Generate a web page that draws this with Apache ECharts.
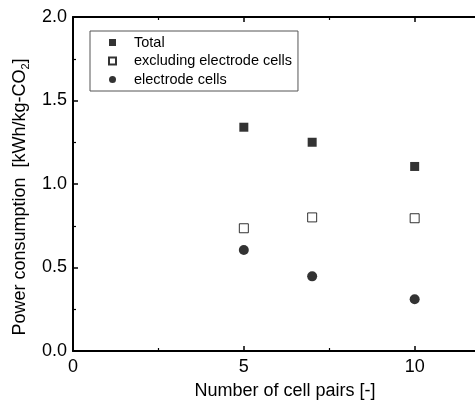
<!DOCTYPE html>
<html>
<head>
<meta charset="utf-8">
<script src="https://cdn.jsdelivr.net/npm/echarts@6/dist/echarts.min.js"></script>
<style>
  html, body { margin: 0; padding: 0; background: #fff; }
  #main { width: 475px; height: 403px; }
</style>
</head>
<body>
<div id="main"></div>
<script>
// number of cell pairs
var cellPairs = [5, 7, 10];
// power consumption [kWh/kg-CO2]
var totalPower = [1.34, 1.25, 1.105];
var excludingElectrode = [0.735, 0.80, 0.795];
var electrodeCells = [0.605, 0.447, 0.31];

var xTicks = [0, 5, 10];
var yTicks = [0.0, 0.5, 1.0, 1.5, 2.0];

function pairs(xs, ys) {
  return xs.map(function (x, i) { return [x, ys[i]]; });
}

var FONT = 'Liberation Sans, Arial, sans-serif';
var chart = echarts.init(document.getElementById('main'));

var axisCommon = {
  type: 'value',
  axisLine: { show: true, onZero: false, lineStyle: { color: '#000', width: 2 } },
  axisTick: { show: true, inside: true, length: 5, lineStyle: { color: '#000', width: 1.5 } },
  minorTick: { show: true, splitNumber: 2, length: 3, lineStyle: { color: '#000', width: 1.2 } },
  splitLine: { show: false },
  minorSplitLine: { show: false }
};

chart.setOption({
  animation: false,
  backgroundColor: '#fff',
  grid: { left: 73, top: 17, width: 410, height: 334, outerBoundsMode: 'none', containLabel: false },
  legend: {
    orient: 'vertical',
    left: 90,
    top: 31,
    padding: [4, 6, 4, 18],
    itemGap: 3.5,
    itemWidth: 7,
    itemHeight: 7,
    borderColor: '#555',
    borderWidth: 1,
    textStyle: { fontFamily: FONT, fontSize: 14.5, color: '#000', padding: [0, 0, 0, 13] },
    data: ['Total', 'excluding electrode cells', 'electrode cells']
  },
  xAxis: [
    Object.assign({}, axisCommon, {
      position: 'bottom',
      min: 0, max: 12, interval: 5,
      name: 'Number of cell pairs [-]',
      nameLocation: 'middle',
      nameGap: 31,
      nameTextStyle: { fontFamily: FONT, fontSize: 18, color: '#000', padding: [0, 0, 0, 14] },
      axisLabel: {
        fontFamily: FONT, fontSize: 18, color: '#000', margin: 7,
        formatter: function (v) { return xTicks.indexOf(v) >= 0 ? String(v) : ''; }
      }
    }),
    Object.assign({}, axisCommon, {
      position: 'top',
      min: 0, max: 12, interval: 5,
      axisLabel: { show: false }
    })
  ],
  yAxis: [
    Object.assign({}, axisCommon, {
      position: 'left',
      min: 0, max: 2, interval: 0.5,
      name: '{n|Power consumption  [kWh/kg-CO}{s|2}{n|]}',
      nameLocation: 'middle',
      nameGap: 42,
      nameRotate: 90,
      nameTextStyle: {
        padding: [0, 26, 0, 0],
        rich: {
          n: { fontFamily: FONT, fontSize: 18, color: '#000' },
          s: { fontFamily: FONT, fontSize: 11, color: '#000', padding: [10, 0, 0, 0] }
        }
      },
      axisLabel: {
        fontFamily: FONT, fontSize: 18, color: '#000', margin: 6,
        formatter: function (v) {
          for (var i = 0; i < yTicks.length; i++) {
            if (Math.abs(yTicks[i] - v) < 1e-9) return yTicks[i].toFixed(1);
          }
          return '';
        }
      }
    })
  ],
  series: [
    {
      name: 'Total',
      type: 'scatter',
      symbol: 'rect',
      symbolSize: 9,
      itemStyle: { color: '#000' },
      data: pairs(cellPairs, totalPower)
    },
    {
      name: 'excluding electrode cells',
      type: 'scatter',
      symbol: 'rect',
      symbolSize: 9,
      itemStyle: { color: '#fff', borderColor: '#000', borderWidth: 1 },
      data: pairs(cellPairs, excludingElectrode)
    },
    {
      name: 'electrode cells',
      type: 'scatter',
      symbol: 'circle',
      symbolSize: 10,
      itemStyle: { color: '#000' },
      data: pairs(cellPairs, electrodeCells)
    }
  ]
});
</script>
</body>
</html>
